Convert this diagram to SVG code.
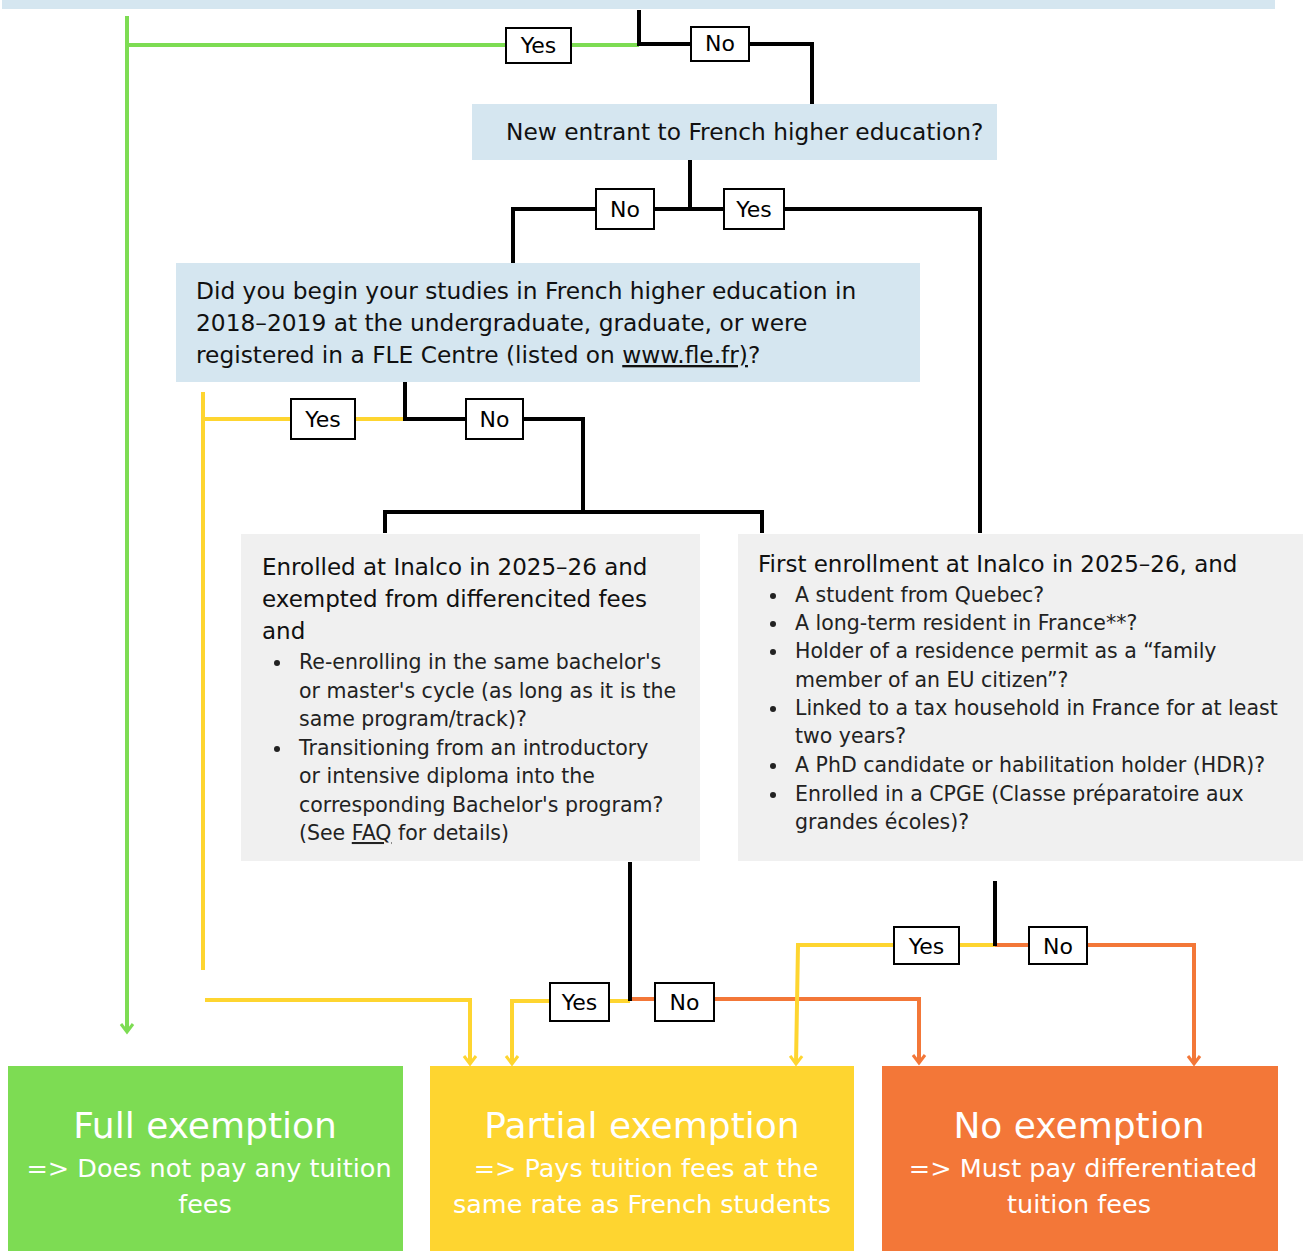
<svg xmlns="http://www.w3.org/2000/svg" width="1306" height="1251" viewBox="0 0 1306 1251">
<style>
.q{fill:#d5e6f0}
.g{fill:#f0f0f0}
.t{font-family:"DejaVu Sans",Verdana,sans-serif;fill:#111}
.qt{font-size:23px}
.bt{font-size:20.5px;fill:#222}
.lb rect{fill:#fff;stroke:#000;stroke-width:2}
.lb text{font-family:"DejaVu Sans",Verdana,sans-serif;font-size:22px;fill:#000;text-anchor:middle}
.k{stroke:#000;stroke-width:4;fill:none}
.gr{stroke:#7ddc53;stroke-width:4;fill:none}
.ye{stroke:#fed530;stroke-width:4;fill:none}
.or{stroke:#f37738;stroke-width:4;fill:none}
.res text{font-family:"DejaVu Sans",Verdana,sans-serif;fill:#fff;text-anchor:middle}
.h{font-size:36px}
.s{font-size:25.5px}
</style>
<defs>
<marker id="ag" markerUnits="userSpaceOnUse" markerWidth="20" markerHeight="20" viewBox="-10 -10 20 20" refX="0" refY="0" orient="auto"><path d="M-8,-6 L0,0 L-8,6" fill="none" stroke="#7ddc53" stroke-width="3"/></marker>
<marker id="ay" markerUnits="userSpaceOnUse" markerWidth="20" markerHeight="20" viewBox="-10 -10 20 20" refX="0" refY="0" orient="auto"><path d="M-8,-6 L0,0 L-8,6" fill="none" stroke="#fed530" stroke-width="3"/></marker>
<marker id="ao" markerUnits="userSpaceOnUse" markerWidth="20" markerHeight="20" viewBox="-10 -10 20 20" refX="0" refY="0" orient="auto"><path d="M-8,-6 L0,0 L-8,6" fill="none" stroke="#f37738" stroke-width="3"/></marker>
</defs>

<g id="q0"><rect class="q" x="2" y="0" width="1273" height="9"/></g>

<g id="connectors">
<path class="gr" d="M639,45 H127"/>
<path class="gr" d="M127,16 V1032" marker-end="url(#ag)"/>
<path class="k" d="M639,10 V44 H812 V104"/>
<path class="k" d="M690,160 V209"/>
<path class="k" d="M513,263 V209 H980 V533"/>
<path class="ye" d="M405,419 H203"/>
<path class="ye" d="M203,392 V970"/>
<path class="k" d="M405,382 V419 H583 V512"/>
<path class="k" d="M385,533 V512 H762 V533"/>
<path class="ye" d="M630,1001 H512 V1064" marker-end="url(#ay)"/>
<path class="or" d="M630,999 H919 V1063" marker-end="url(#ao)"/>
<path class="k" d="M630,862 V1001"/>
<path class="ye" d="M205,1000 H470 V1064" marker-end="url(#ay)"/>
<path class="ye" d="M995,945 H798 L796,1064" marker-end="url(#ay)"/>
<path class="or" d="M995,945 H1194 V1064" marker-end="url(#ao)"/>
<path class="k" d="M995,881 V946"/>
<g class="lb">
<rect x="506" y="28" width="65" height="35"/><text x="538.5" y="53">Yes</text>
<rect x="691" y="27" width="58" height="34"/><text x="720" y="51">No</text>
<rect x="596" y="189" width="58" height="40"/><text x="625" y="217">No</text>
<rect x="724" y="189" width="60" height="40"/><text x="754" y="217">Yes</text>
<rect x="291" y="399" width="64" height="40"/><text x="323" y="427">Yes</text>
<rect x="466" y="399" width="57" height="40"/><text x="494.5" y="427">No</text>
<rect x="550" y="983" width="59" height="38"/><text x="579.5" y="1010">Yes</text>
<rect x="655" y="983" width="59" height="38"/><text x="684.5" y="1010">No</text>
<rect x="894" y="927" width="65" height="37"/><text x="926.5" y="954">Yes</text>
<rect x="1029" y="927" width="58" height="37"/><text x="1058" y="954">No</text>
</g>
</g>

<g id="q1">
<rect class="q" x="472" y="104" width="525" height="56"/>
<text class="t" style="font-size:23.3px" x="506" y="140">New entrant to French higher education?</text>
</g>

<g id="q2">
<rect class="q" x="176" y="263" width="744" height="119"/>
<text class="t" style="font-size:23.3px" x="196" y="299">Did you begin your studies in French higher education in</text>
<text class="t" style="font-size:23.3px" x="196" y="331">2018–2019 at the undergraduate, graduate, or were</text>
<text class="t" style="font-size:23.3px" x="196" y="363">registered in a FLE Centre (listed on <tspan text-decoration="underline">www.fle.fr)</tspan>?</text>
</g>

<g id="q3">
<rect class="g" x="241" y="534" width="459" height="327"/>
<text class="t qt" x="262" y="575">Enrolled at Inalco in 2025–26 and</text>
<text class="t qt" x="262" y="607">exempted from differencited fees</text>
<text class="t qt" x="262" y="639">and</text>
<circle cx="277" cy="663" r="3" fill="#222"/>
<circle cx="277" cy="749" r="3" fill="#222"/>
<text class="t bt" x="299" y="669">Re-enrolling in the same bachelor's</text>
<text class="t bt" x="299" y="698">or master's cycle (as long as it is the</text>
<text class="t bt" x="299" y="726">same program/track)?</text>
<text class="t bt" x="299" y="755">Transitioning from an introductory</text>
<text class="t bt" x="299" y="783">or intensive diploma into the</text>
<text class="t bt" x="299" y="812">corresponding Bachelor's program?</text>
<text class="t bt" x="299" y="840">(See <tspan text-decoration="underline">FAQ</tspan> for details)</text>
</g>

<g id="q4">
<rect class="g" x="738" y="534" width="565" height="327"/>
<text class="t qt" x="758" y="572">First enrollment at Inalco in 2025–26, and</text>
<circle cx="773" cy="596" r="3" fill="#222"/>
<circle cx="773" cy="624" r="3" fill="#222"/>
<circle cx="773" cy="652" r="3" fill="#222"/>
<circle cx="773" cy="709" r="3" fill="#222"/>
<circle cx="773" cy="766" r="3" fill="#222"/>
<circle cx="773" cy="795" r="3" fill="#222"/>
<text class="t bt" x="795" y="602">A student from Quebec?</text>
<text class="t bt" x="795" y="630">A long-term resident in France**?</text>
<text class="t bt" x="795" y="658">Holder of a residence permit as a “family</text>
<text class="t bt" x="795" y="687">member of an EU citizen”?</text>
<text class="t bt" x="795" y="715">Linked to a tax household in France for at least</text>
<text class="t bt" x="795" y="743">two years?</text>
<text class="t bt" x="795" y="772">A PhD candidate or habilitation holder (HDR)?</text>
<text class="t bt" x="795" y="801">Enrolled in a CPGE (Classe préparatoire aux</text>
<text class="t bt" x="795" y="829">grandes écoles)?</text>
</g>

<g id="r-full" class="res">
<rect x="8" y="1066" width="395" height="185" fill="#7ddc53"/>
<text class="h" x="205" y="1138">Full exemption</text>
<text class="s" x="209" y="1177">=&gt; Does not pay any tuition</text>
<text class="s" x="205" y="1213">fees</text>
</g>
<g id="r-partial" class="res">
<rect x="430" y="1066" width="424" height="185" fill="#fed530"/>
<text class="h" x="642" y="1138">Partial exemption</text>
<text class="s" x="646" y="1177">=&gt; Pays tuition fees at the</text>
<text class="s" x="642" y="1213">same rate as French students</text>
</g>
<g id="r-none" class="res">
<rect x="882" y="1066" width="396" height="185" fill="#f37738"/>
<text class="h" x="1079" y="1138">No exemption</text>
<text class="s" x="1083" y="1177">=&gt; Must pay differentiated</text>
<text class="s" x="1079" y="1213">tuition fees</text>
</g>
</svg>
